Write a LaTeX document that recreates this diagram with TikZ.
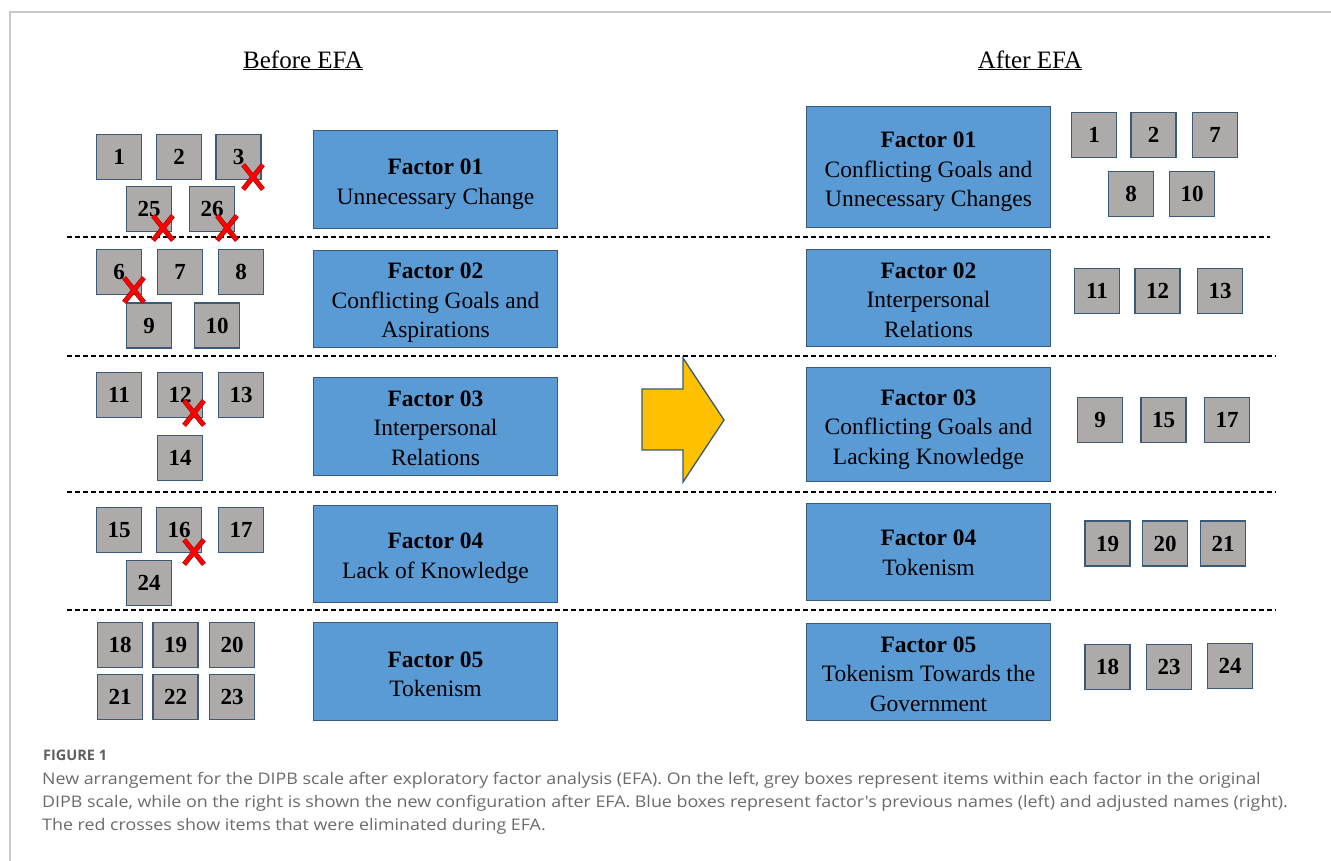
\documentclass[tikz,border=0pt]{standalone}
\usepackage{fontspec}
\setmainfont{Liberation Serif}
\newfontfamily\capfont[FakeStretch=1.115]{Open Sans}
\newfontfamily\figfont{Open Sans}
\usetikzlibrary{shapes.misc}
\definecolor{boxblue}{HTML}{5B9BD5}
\definecolor{boxedge}{HTML}{3A5A78}
\definecolor{itemgrey}{HTML}{AEAAAA}
\definecolor{arrowgold}{HTML}{FFC000}
\definecolor{framegrey}{HTML}{C8C8C8}
\definecolor{captext}{HTML}{6A6A6A}
\definecolor{crossdark}{HTML}{8A1010}
\tikzset{
  item/.style={draw=boxedge, line width=1.3pt, fill=itemgrey, minimum size=45pt, inner sep=0pt,
    font=\fontsize{23}{28}\selectfont\bfseries},
  factor/.style={draw=boxedge, line width=1.3pt, fill=boxblue, minimum width=244pt, inner sep=0pt},
  ftext/.style={inner sep=0pt, align=center, font=\fontsize{23.5}{29.5}\selectfont},
  xmark/.style={cross out, draw=crossdark, line width=0.6pt, double=red, double distance=3.8pt,
    minimum width=19pt, minimum height=24pt, inner sep=0pt},
  sepline/.style={dashed, dash pattern=on 5pt off 3pt, line width=1.4pt},
  titletxt/.style={font=\fontsize{25}{30}\selectfont, anchor=base},
  captxt/.style={anchor=base west, inner sep=0pt, text=captext, font=\capfont\fontsize{16}{22}\selectfont},
}
\begin{document}
\begin{tikzpicture}[x=1pt,y=-1pt]
\useasboundingbox (0,0) rectangle (1331,860);
% frame
\draw[framegrey, line width=2pt] (10,861) -- (10,12) -- (1332,12);
% titles
\node[titletxt] (tb) at (303,68) {\underline{Before EFA}};
\node[titletxt] (ta) at (1030,68) {\underline{After EFA}};
% separators
\draw[sepline] (67,237) -- (1270,237);
\draw[sepline] (67,356) -- (1276,356);
\draw[sepline] (67,492) -- (1276,492);
\draw[sepline] (67,610) -- (1276,610);
% left items
\node[item] (l1) at (119,157) {1};
\node[item] (l2) at (179,157) {2};
\node[item] (l3) at (238.5,157) {3};
\node[item] (l25) at (149,209) {25};
\node[item] (l26) at (212,209) {26};
\node[item] (l6) at (119,272) {6};
\node[item] (l7) at (180,272) {7};
\node[item] (l8) at (241,272) {8};
\node[item] (l9) at (149,325.5) {9};
\node[item] (l10) at (217,325.5) {10};
\node[item] (l11) at (119,395) {11};
\node[item] (l12) at (180,395) {12};
\node[item] (l13) at (241,395) {13};
\node[item] (l14) at (180,458) {14};
\node[item] (l15) at (119,530) {15};
\node[item] (l16) at (179,530) {16};
\node[item] (l17) at (241,530) {17};
\node[item] (l24) at (149,583) {24};
\node[item] (l18) at (120,645) {18};
\node[item] (l19) at (175.5,645) {19};
\node[item] (l20) at (232,645) {20};
\node[item] (l21) at (120,697) {21};
\node[item] (l22) at (175.5,697) {22};
\node[item] (l23) at (232,697) {23};
% crosses
\node[xmark] (x3) at (253,177) {};
\node[xmark] (x25) at (163,228) {};
\node[xmark] (x26) at (227,228) {};
\node[xmark] (x6) at (134,290) {};
\node[xmark] (x12) at (194,413) {};
\node[xmark] (x16) at (194,552) {};
% left factors
\node[factor, minimum height=98pt] (lf1) at (435.5,179.5) {};
\node[ftext, yshift=-4.5pt] (lf1t) at (lf1.center) {\textbf{Factor 01}\\Unnecessary Change};
\node[factor, minimum height=97pt] (lf2) at (435.5,299) {};
\node[ftext, yshift=-4pt] (lf2t) at (lf2.center) {\textbf{Factor 02}\\Conflicting Goals and\\Aspirations};
\node[factor, minimum height=98pt] (lf3) at (435.5,426.5) {};
\node[ftext, yshift=-1.5pt] (lf3t) at (lf3.center) {\textbf{Factor 03}\\Interpersonal\\Relations};
\node[factor, minimum height=97pt] (lf4) at (435.5,554) {};
\node[ftext, yshift=-4pt] (lf4t) at (lf4.center) {\textbf{Factor 04}\\Lack of Knowledge};
\node[factor, minimum height=98pt] (lf5) at (435.5,671.5) {};
\node[ftext, yshift=-3pt] (lf5t) at (lf5.center) {\textbf{Factor 05}\\Tokenism};
% arrow
\draw[boxedge, line width=1.3pt, fill=arrowgold, line join=miter]
  (642,389) -- (683,389) -- (683,358) -- (724,420) -- (683,482) -- (683,450) -- (642,450) -- cycle;
% right factors
\node[factor, minimum height=121pt] (rf1) at (928.5,167) {};
\node[ftext, yshift=-5pt] (rf1t) at (rf1.center) {\textbf{Factor 01}\\Conflicting Goals and\\Unnecessary Changes};
\node[factor, minimum height=97pt] (rf2) at (928.5,298) {};
\node[ftext, yshift=-2pt] (rf2t) at (rf2.center) {\textbf{Factor 02}\\Interpersonal\\Relations};
\node[factor, minimum height=114pt] (rf3) at (928.5,424.5) {};
\node[ftext, yshift=-5pt] (rf3t) at (rf3.center) {\textbf{Factor 03}\\Conflicting Goals and\\Lacking Knowledge};
\node[factor, minimum height=97pt] (rf4) at (928.5,552) {};
\node[ftext, yshift=-1pt] (rf4t) at (rf4.center) {\textbf{Factor 04}\\Tokenism};
\node[factor, minimum height=97pt] (rf5) at (928.5,672) {};
\node[ftext, yshift=-2pt] (rf5t) at (rf5.center) {\textbf{Factor 05}\\Tokenism Towards the\\Government};
% right items
\node[item] (r1) at (1094,135) {1};
\node[item] (r2) at (1153.5,135) {2};
\node[item] (r7) at (1215,135) {7};
\node[item] (r8) at (1131,194) {8};
\node[item] (r10) at (1192,194) {10};
\node[item] (r11) at (1097,291) {11};
\node[item] (r12) at (1157.5,291) {12};
\node[item] (r13) at (1220,291) {13};
\node[item] (r9) at (1100,420) {9};
\node[item] (r15) at (1163.5,420) {15};
\node[item] (r17) at (1227,420) {17};
\node[item] (r19) at (1107.5,543.5) {19};
\node[item] (r20) at (1165,543.5) {20};
\node[item] (r21) at (1223,543.5) {21};
\node[item] (r18) at (1107.5,667) {18};
\node[item] (r23) at (1169,667) {23};
\node[item] (r24) at (1230,666) {24};
% caption
\node[captxt, text=captext!90!black, font=\figfont\fontsize{14.5}{16}\selectfont\bfseries] (fig) at (43,760) {FIGURE 1};
\node[captxt] (c1) at (42,784) {New arrangement for the DIPB scale after exploratory factor analysis (EFA). On the left, grey boxes represent items within each factor in the original};
\node[captxt] (c2) at (42,807) {DIPB scale, while on the right is shown the new configuration after EFA. Blue boxes represent factor's previous names (left) and adjusted names (right).};
\node[captxt] (c3) at (42,830) {The red crosses show items that were eliminated during EFA.};
\end{tikzpicture}
\end{document}
